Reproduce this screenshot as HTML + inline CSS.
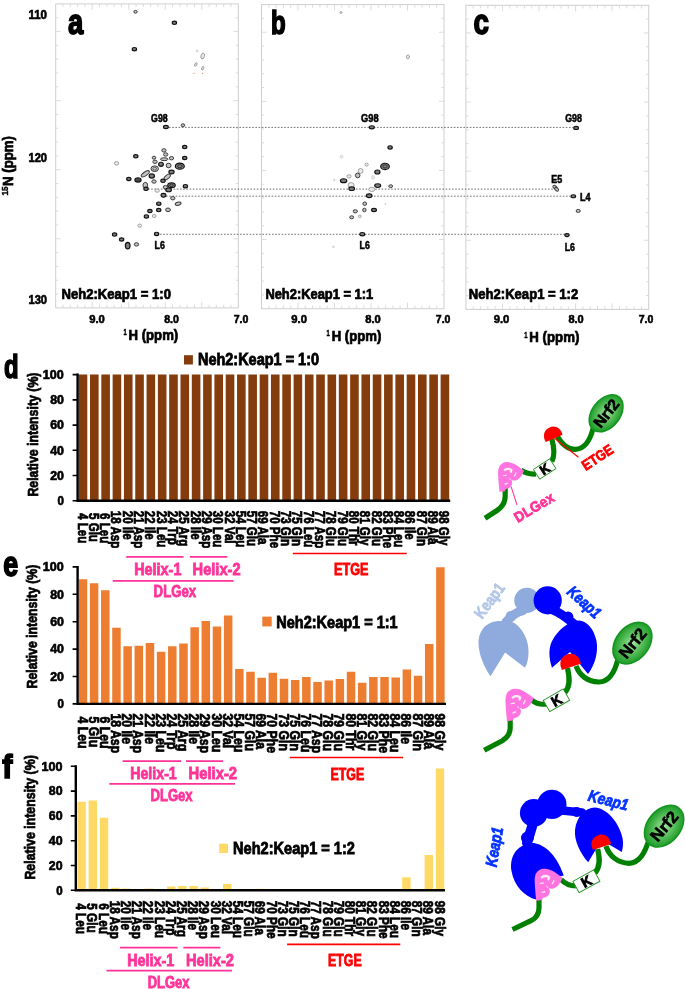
<!DOCTYPE html>
<html><head><meta charset="utf-8"><title>Neh2 Keap1 titration figure</title>
<style>html,body{margin:0;padding:0;background:#fff}svg{display:block}text{white-space:pre}</style></head>
<body>
<svg width="685" height="989" viewBox="0 0 685 989">
<rect width="685" height="989" fill="#fff"/>
<rect x="55.7" y="3.9" width="182.6" height="304.0" fill="none" stroke="#cfcfcf" stroke-width="1"/>
<path d="M231.00,307.9v-3.2M231.00,3.9v3.2M223.69,307.9v-3.2M223.69,3.9v3.2M216.39,307.9v-3.2M216.39,3.9v3.2M209.08,307.9v-3.2M209.08,3.9v3.2M201.78,307.9v-6M201.78,3.9v6M194.48,307.9v-3.2M194.48,3.9v3.2M187.17,307.9v-3.2M187.17,3.9v3.2M179.87,307.9v-3.2M179.87,3.9v3.2M172.56,307.9v-3.2M172.56,3.9v3.2M165.26,307.9v-6M165.26,3.9v6M157.96,307.9v-3.2M157.96,3.9v3.2M150.65,307.9v-3.2M150.65,3.9v3.2M143.35,307.9v-3.2M143.35,3.9v3.2M136.04,307.9v-3.2M136.04,3.9v3.2M128.74,307.9v-6M128.74,3.9v6M121.44,307.9v-3.2M121.44,3.9v3.2M114.13,307.9v-3.2M114.13,3.9v3.2M106.83,307.9v-3.2M106.83,3.9v3.2M99.52,307.9v-3.2M99.52,3.9v3.2M92.22,307.9v-6M92.22,3.9v6M84.92,307.9v-3.2M84.92,3.9v3.2M77.61,307.9v-3.2M77.61,3.9v3.2M70.31,307.9v-3.2M70.31,3.9v3.2M63.00,307.9v-3.2M63.00,3.9v3.2M55.7,294.08h2.6M238.3,294.08h-2.6M55.7,280.26h2.6M238.3,280.26h-2.6M55.7,266.45h2.6M238.3,266.45h-2.6M55.7,252.63h2.6M238.3,252.63h-2.6M55.7,238.81h5M238.3,238.81h-5M55.7,224.99h2.6M238.3,224.99h-2.6M55.7,211.17h2.6M238.3,211.17h-2.6M55.7,197.35h2.6M238.3,197.35h-2.6M55.7,183.54h2.6M238.3,183.54h-2.6M55.7,169.72h5M238.3,169.72h-5M55.7,155.90h2.6M238.3,155.90h-2.6M55.7,142.08h2.6M238.3,142.08h-2.6M55.7,128.26h2.6M238.3,128.26h-2.6M55.7,114.45h2.6M238.3,114.45h-2.6M55.7,100.63h5M238.3,100.63h-5M55.7,86.81h2.6M238.3,86.81h-2.6M55.7,72.99h2.6M238.3,72.99h-2.6M55.7,59.17h2.6M238.3,59.17h-2.6M55.7,45.35h2.6M238.3,45.35h-2.6M55.7,31.54h5M238.3,31.54h-5M55.7,17.72h2.6M238.3,17.72h-2.6" stroke="#d6d6d6" stroke-width="0.85" fill="none"/>
<rect x="261.5" y="4.6" width="182.5" height="304.1" fill="none" stroke="#cfcfcf" stroke-width="1"/>
<path d="M436.70,308.7v-3.2M436.70,4.6v3.2M429.40,308.7v-3.2M429.40,4.6v3.2M422.10,308.7v-3.2M422.10,4.6v3.2M414.80,308.7v-3.2M414.80,4.6v3.2M407.50,308.7v-6M407.50,4.6v6M400.20,308.7v-3.2M400.20,4.6v3.2M392.90,308.7v-3.2M392.90,4.6v3.2M385.60,308.7v-3.2M385.60,4.6v3.2M378.30,308.7v-3.2M378.30,4.6v3.2M371.00,308.7v-6M371.00,4.6v6M363.70,308.7v-3.2M363.70,4.6v3.2M356.40,308.7v-3.2M356.40,4.6v3.2M349.10,308.7v-3.2M349.10,4.6v3.2M341.80,308.7v-3.2M341.80,4.6v3.2M334.50,308.7v-6M334.50,4.6v6M327.20,308.7v-3.2M327.20,4.6v3.2M319.90,308.7v-3.2M319.90,4.6v3.2M312.60,308.7v-3.2M312.60,4.6v3.2M305.30,308.7v-3.2M305.30,4.6v3.2M298.00,308.7v-6M298.00,4.6v6M290.70,308.7v-3.2M290.70,4.6v3.2M283.40,308.7v-3.2M283.40,4.6v3.2M276.10,308.7v-3.2M276.10,4.6v3.2M268.80,308.7v-3.2M268.80,4.6v3.2M261.5,294.88h2.6M444.0,294.88h-2.6M261.5,281.05h2.6M444.0,281.05h-2.6M261.5,267.23h2.6M444.0,267.23h-2.6M261.5,253.41h2.6M444.0,253.41h-2.6M261.5,239.59h5M444.0,239.59h-5M261.5,225.76h2.6M444.0,225.76h-2.6M261.5,211.94h2.6M444.0,211.94h-2.6M261.5,198.12h2.6M444.0,198.12h-2.6M261.5,184.30h2.6M444.0,184.30h-2.6M261.5,170.47h5M444.0,170.47h-5M261.5,156.65h2.6M444.0,156.65h-2.6M261.5,142.83h2.6M444.0,142.83h-2.6M261.5,129.00h2.6M444.0,129.00h-2.6M261.5,115.18h2.6M444.0,115.18h-2.6M261.5,101.36h5M444.0,101.36h-5M261.5,87.54h2.6M444.0,87.54h-2.6M261.5,73.71h2.6M444.0,73.71h-2.6M261.5,59.89h2.6M444.0,59.89h-2.6M261.5,46.07h2.6M444.0,46.07h-2.6M261.5,32.25h5M444.0,32.25h-5M261.5,18.42h2.6M444.0,18.42h-2.6" stroke="#d6d6d6" stroke-width="0.85" fill="none"/>
<rect x="465.9" y="5.3" width="182.8" height="304.1" fill="none" stroke="#cfcfcf" stroke-width="1"/>
<path d="M641.39,309.4v-3.2M641.39,5.3v3.2M634.08,309.4v-3.2M634.08,5.3v3.2M626.76,309.4v-3.2M626.76,5.3v3.2M619.45,309.4v-3.2M619.45,5.3v3.2M612.14,309.4v-6M612.14,5.3v6M604.83,309.4v-3.2M604.83,5.3v3.2M597.52,309.4v-3.2M597.52,5.3v3.2M590.20,309.4v-3.2M590.20,5.3v3.2M582.89,309.4v-3.2M582.89,5.3v3.2M575.58,309.4v-6M575.58,5.3v6M568.27,309.4v-3.2M568.27,5.3v3.2M560.96,309.4v-3.2M560.96,5.3v3.2M553.64,309.4v-3.2M553.64,5.3v3.2M546.33,309.4v-3.2M546.33,5.3v3.2M539.02,309.4v-6M539.02,5.3v6M531.71,309.4v-3.2M531.71,5.3v3.2M524.40,309.4v-3.2M524.40,5.3v3.2M517.08,309.4v-3.2M517.08,5.3v3.2M509.77,309.4v-3.2M509.77,5.3v3.2M502.46,309.4v-6M502.46,5.3v6M495.15,309.4v-3.2M495.15,5.3v3.2M487.84,309.4v-3.2M487.84,5.3v3.2M480.52,309.4v-3.2M480.52,5.3v3.2M473.21,309.4v-3.2M473.21,5.3v3.2M465.9,295.58h2.6M648.7,295.58h-2.6M465.9,281.75h2.6M648.7,281.75h-2.6M465.9,267.93h2.6M648.7,267.93h-2.6M465.9,254.11h2.6M648.7,254.11h-2.6M465.9,240.29h5M648.7,240.29h-5M465.9,226.46h2.6M648.7,226.46h-2.6M465.9,212.64h2.6M648.7,212.64h-2.6M465.9,198.82h2.6M648.7,198.82h-2.6M465.9,185.00h2.6M648.7,185.00h-2.6M465.9,171.17h5M648.7,171.17h-5M465.9,157.35h2.6M648.7,157.35h-2.6M465.9,143.53h2.6M648.7,143.53h-2.6M465.9,129.70h2.6M648.7,129.70h-2.6M465.9,115.88h2.6M648.7,115.88h-2.6M465.9,102.06h5M648.7,102.06h-5M465.9,88.24h2.6M648.7,88.24h-2.6M465.9,74.41h2.6M648.7,74.41h-2.6M465.9,60.59h2.6M648.7,60.59h-2.6M465.9,46.77h2.6M648.7,46.77h-2.6M465.9,32.95h5M648.7,32.95h-5M465.9,19.12h2.6M648.7,19.12h-2.6" stroke="#d6d6d6" stroke-width="0.85" fill="none"/>
<path d="M169,127.4H573" stroke="#4a4a4a" stroke-width="0.8" stroke-dasharray="1.6 1.6" fill="none"/>
<path d="M148,189.1H553" stroke="#4a4a4a" stroke-width="0.8" stroke-dasharray="1.6 1.6" fill="none"/>
<path d="M166,196.2H570" stroke="#4a4a4a" stroke-width="0.8" stroke-dasharray="1.6 1.6" fill="none"/>
<path d="M160,234.3H565" stroke="#4a4a4a" stroke-width="0.8" stroke-dasharray="1.6 1.6" fill="none"/>
<ellipse cx="184.7" cy="147.1" rx="2.16" ry="1.69" fill="#7d7d7d" stroke="#111111" stroke-width="1.15"/>
<ellipse cx="163.9" cy="150.4" rx="2.16" ry="1.69" fill="#c4c4c4" stroke="#3a3a3a" stroke-width="1.0"/>
<ellipse cx="165.7" cy="154.5" rx="2.16" ry="1.69" fill="#c4c4c4" stroke="#3a3a3a" stroke-width="1.0"/>
<ellipse cx="135.8" cy="156.3" rx="2.16" ry="1.69" fill="#7d7d7d" stroke="#111111" stroke-width="1.15"/>
<ellipse cx="154" cy="157.7" rx="1.79" ry="1.5" fill="#c4c4c4" stroke="#3a3a3a" stroke-width="1.0"/>
<ellipse cx="171.5" cy="158.2" rx="2.16" ry="1.69" fill="#c4c4c4" stroke="#3a3a3a" stroke-width="1.0"/>
<ellipse cx="184.7" cy="158" rx="2.16" ry="1.69" fill="#7d7d7d" stroke="#111111" stroke-width="1.15"/>
<ellipse cx="164.2" cy="159.2" rx="3.76" ry="1.41" fill="#c4c4c4" stroke="#3a3a3a" stroke-width="1.0"/>
<ellipse cx="116.5" cy="163.3" rx="2.16" ry="1.69" fill="#ececec" stroke="#8c8c8c" stroke-width="0.8"/>
<ellipse cx="155" cy="161.8" rx="2.16" ry="1.69" fill="#c4c4c4" stroke="#3a3a3a" stroke-width="1.0"/>
<ellipse cx="161" cy="164.3" rx="2.35" ry="2.07" fill="#7d7d7d" stroke="#111111" stroke-width="1.15"/>
<ellipse cx="168.6" cy="165.5" rx="2.44" ry="2.26" fill="#c4c4c4" stroke="#3a3a3a" stroke-width="1.0"/>
<ellipse cx="179.8" cy="166.2" rx="4.51" ry="3.1" fill="#7d7d7d" stroke="#111111" stroke-width="1.15"/>
<ellipse cx="179.8" cy="166.2" rx="2.25" ry="1.55" fill="none" stroke="#111111" stroke-width="0.7"/>
<ellipse cx="154.7" cy="168.7" rx="3.76" ry="2.82" fill="#c4c4c4" stroke="#3a3a3a" stroke-width="1.0"/>
<ellipse cx="154.7" cy="168.7" rx="1.88" ry="1.41" fill="none" stroke="#3a3a3a" stroke-width="0.7"/>
<ellipse cx="171.5" cy="172" rx="2.63" ry="1.88" fill="#7d7d7d" stroke="#111111" stroke-width="1.15"/>
<ellipse cx="145.3" cy="173.8" rx="4.7" ry="1.88" fill="#c4c4c4" stroke="#3a3a3a" stroke-width="1.0" transform="rotate(-35 145.3 173.8)"/>
<ellipse cx="151.8" cy="176" rx="2.63" ry="2.07" fill="#7d7d7d" stroke="#111111" stroke-width="1.15"/>
<ellipse cx="167.2" cy="177" rx="3.76" ry="1.88" fill="#c4c4c4" stroke="#3a3a3a" stroke-width="1.0" transform="rotate(-40 167.2 177)"/>
<ellipse cx="128.8" cy="179" rx="2.16" ry="1.69" fill="#7d7d7d" stroke="#111111" stroke-width="1.15"/>
<ellipse cx="138" cy="180" rx="3.1" ry="2.07" fill="#7d7d7d" stroke="#111111" stroke-width="1.15"/>
<ellipse cx="138" cy="180" rx="1.55" ry="1.03" fill="none" stroke="#111111" stroke-width="0.7"/>
<ellipse cx="163" cy="180.8" rx="2.16" ry="1.69" fill="#7d7d7d" stroke="#111111" stroke-width="1.15"/>
<ellipse cx="154" cy="181.5" rx="2.16" ry="1.69" fill="#c4c4c4" stroke="#3a3a3a" stroke-width="1.0"/>
<ellipse cx="171.5" cy="185.2" rx="3.76" ry="2.44" fill="#7d7d7d" stroke="#111111" stroke-width="1.15"/>
<ellipse cx="171.5" cy="185.2" rx="1.88" ry="1.22" fill="none" stroke="#111111" stroke-width="0.7"/>
<ellipse cx="185.4" cy="186.2" rx="2.16" ry="1.69" fill="#7d7d7d" stroke="#111111" stroke-width="1.15"/>
<ellipse cx="145.3" cy="185.2" rx="2.35" ry="2.82" fill="#c4c4c4" stroke="#3a3a3a" stroke-width="1.0"/>
<ellipse cx="146" cy="188.8" rx="2.16" ry="1.69" fill="#7d7d7d" stroke="#111111" stroke-width="1.15"/>
<ellipse cx="165.4" cy="187.2" rx="2.16" ry="1.69" fill="#c4c4c4" stroke="#3a3a3a" stroke-width="1.0"/>
<ellipse cx="168.6" cy="189.9" rx="2.82" ry="1.88" fill="#7d7d7d" stroke="#111111" stroke-width="1.15"/>
<ellipse cx="157.2" cy="190.6" rx="2.16" ry="1.69" fill="#ececec" stroke="#8c8c8c" stroke-width="0.8"/>
<ellipse cx="163.5" cy="195.3" rx="2.44" ry="1.88" fill="#7d7d7d" stroke="#111111" stroke-width="1.15"/>
<ellipse cx="172.8" cy="198.2" rx="2.16" ry="1.69" fill="#c4c4c4" stroke="#3a3a3a" stroke-width="1.0"/>
<ellipse cx="178.1" cy="203.7" rx="3.01" ry="1.6" fill="#c4c4c4" stroke="#3a3a3a" stroke-width="1.0" transform="rotate(-15 178.1 203.7)"/>
<ellipse cx="158.8" cy="203.7" rx="2.16" ry="1.69" fill="#7d7d7d" stroke="#111111" stroke-width="1.15"/>
<ellipse cx="158.7" cy="210.1" rx="2.16" ry="1.69" fill="#7d7d7d" stroke="#111111" stroke-width="1.15"/>
<ellipse cx="168" cy="209.8" rx="2.44" ry="1.79" fill="#c4c4c4" stroke="#3a3a3a" stroke-width="1.0"/>
<ellipse cx="149.9" cy="211" rx="2.16" ry="1.69" fill="#7d7d7d" stroke="#111111" stroke-width="1.15"/>
<ellipse cx="146.4" cy="216.4" rx="2.16" ry="1.69" fill="#7d7d7d" stroke="#111111" stroke-width="1.15"/>
<ellipse cx="154.2" cy="216" rx="1.88" ry="1.6" fill="#ececec" stroke="#8c8c8c" stroke-width="0.8"/>
<ellipse cx="139.7" cy="225.6" rx="1.79" ry="1.6" fill="#ececec" stroke="#8c8c8c" stroke-width="0.8"/>
<ellipse cx="156.6" cy="233.9" rx="2.16" ry="1.69" fill="#7d7d7d" stroke="#111111" stroke-width="1.15"/>
<ellipse cx="114.6" cy="234.6" rx="2.16" ry="1.69" fill="#7d7d7d" stroke="#111111" stroke-width="1.15"/>
<ellipse cx="121.6" cy="239.5" rx="2.16" ry="1.69" fill="#7d7d7d" stroke="#111111" stroke-width="1.15"/>
<ellipse cx="127.7" cy="245.6" rx="2.35" ry="3.29" fill="#7d7d7d" stroke="#111111" stroke-width="1.15"/>
<ellipse cx="136.5" cy="244.4" rx="2.16" ry="1.69" fill="#c4c4c4" stroke="#3a3a3a" stroke-width="1.0"/>
<ellipse cx="135.5" cy="11.8" rx="1.69" ry="1.41" fill="#c4c4c4" stroke="#3a3a3a" stroke-width="1.0"/>
<ellipse cx="174.4" cy="22.8" rx="2.16" ry="1.69" fill="#7d7d7d" stroke="#111111" stroke-width="1.15"/>
<ellipse cx="134.4" cy="49.2" rx="2.16" ry="1.69" fill="#7d7d7d" stroke="#111111" stroke-width="1.15"/>
<ellipse cx="202.7" cy="56" rx="1.69" ry="3.01" fill="#ececec" stroke="#8c8c8c" stroke-width="0.8" transform="rotate(15 202.7 56)"/>
<ellipse cx="197.2" cy="50.9" rx="0.94" ry="0.94" fill="#f2f2f2" stroke="#bbbbbb" stroke-width="0.6"/>
<ellipse cx="195.8" cy="64.5" rx="1.03" ry="1.88" fill="#ececec" stroke="#8c8c8c" stroke-width="0.8" transform="rotate(30 195.8 64.5)"/>
<ellipse cx="202.7" cy="68.3" rx="0.94" ry="1.88" fill="#ececec" stroke="#8c8c8c" stroke-width="0.8" transform="rotate(20 202.7 68.3)"/>
<ellipse cx="165.9" cy="127" rx="2.44" ry="1.69" fill="#7d7d7d" stroke="#111111" stroke-width="1.15"/>
<ellipse cx="182.9" cy="125.3" rx="1.79" ry="1.5" fill="#c4c4c4" stroke="#3a3a3a" stroke-width="1.0"/>
<circle cx="194" cy="73.4" r="0.6" fill="#e88"/><circle cx="202.5" cy="73.4" r="0.6" fill="#e88"/>
<ellipse cx="390.1" cy="147.4" rx="2.16" ry="1.69" fill="#7d7d7d" stroke="#111111" stroke-width="1.15"/>
<ellipse cx="341.5" cy="156.7" rx="1.41" ry="1.41" fill="#f2f2f2" stroke="#bbbbbb" stroke-width="0.6"/>
<ellipse cx="366.6" cy="164.6" rx="1.6" ry="1.5" fill="#ececec" stroke="#8c8c8c" stroke-width="0.8"/>
<ellipse cx="385" cy="166.4" rx="4.32" ry="3.2" fill="#7d7d7d" stroke="#111111" stroke-width="1.15"/>
<ellipse cx="385" cy="166.4" rx="2.16" ry="1.60" fill="none" stroke="#111111" stroke-width="0.7"/>
<ellipse cx="377.4" cy="172" rx="2.63" ry="1.97" fill="#7d7d7d" stroke="#111111" stroke-width="1.15"/>
<ellipse cx="360.6" cy="171" rx="2.44" ry="2.44" fill="#ececec" stroke="#8c8c8c" stroke-width="0.8"/>
<ellipse cx="357.7" cy="175.4" rx="2.26" ry="2.35" fill="#c4c4c4" stroke="#3a3a3a" stroke-width="1.0"/>
<ellipse cx="349" cy="176.4" rx="2.07" ry="1.69" fill="#ececec" stroke="#8c8c8c" stroke-width="0.8"/>
<ellipse cx="373" cy="177.4" rx="1.41" ry="1.69" fill="#f2f2f2" stroke="#bbbbbb" stroke-width="0.6"/>
<ellipse cx="343.6" cy="180.7" rx="3.2" ry="1.97" fill="#7d7d7d" stroke="#111111" stroke-width="1.15"/>
<ellipse cx="334.3" cy="180" rx="0.85" ry="0.75" fill="#f2f2f2" stroke="#bbbbbb" stroke-width="0.6"/>
<ellipse cx="351.1" cy="185.2" rx="3.01" ry="2.63" fill="#ececec" stroke="#8c8c8c" stroke-width="0.8"/>
<ellipse cx="351.7" cy="188.7" rx="2.82" ry="1.79" fill="#7d7d7d" stroke="#111111" stroke-width="1.15"/>
<ellipse cx="377.7" cy="185.6" rx="3.01" ry="1.88" fill="#7d7d7d" stroke="#111111" stroke-width="1.15"/>
<ellipse cx="390.7" cy="186.2" rx="1.88" ry="1.41" fill="#c4c4c4" stroke="#3a3a3a" stroke-width="1.0"/>
<ellipse cx="371.8" cy="189.4" rx="3.1" ry="2.07" fill="#ececec" stroke="#8c8c8c" stroke-width="0.8"/>
<ellipse cx="369.2" cy="195.7" rx="2.82" ry="1.88" fill="#7d7d7d" stroke="#111111" stroke-width="1.15"/>
<ellipse cx="364.7" cy="203.7" rx="1.88" ry="1.69" fill="#c4c4c4" stroke="#3a3a3a" stroke-width="1.0"/>
<ellipse cx="364.4" cy="210" rx="1.69" ry="1.79" fill="#c4c4c4" stroke="#3a3a3a" stroke-width="1.0"/>
<ellipse cx="374" cy="210" rx="2.44" ry="1.69" fill="#7d7d7d" stroke="#111111" stroke-width="1.15"/>
<ellipse cx="355.3" cy="211.3" rx="2.07" ry="1.6" fill="#c4c4c4" stroke="#3a3a3a" stroke-width="1.0"/>
<ellipse cx="351.7" cy="217.3" rx="1.97" ry="1.5" fill="#c4c4c4" stroke="#3a3a3a" stroke-width="1.0"/>
<ellipse cx="359.7" cy="216.4" rx="1.32" ry="1.22" fill="#ececec" stroke="#8c8c8c" stroke-width="0.8"/>
<ellipse cx="362.3" cy="234.2" rx="2.44" ry="1.69" fill="#7d7d7d" stroke="#111111" stroke-width="1.15"/>
<ellipse cx="385.4" cy="204" rx="0.56" ry="0.56" fill="#f2f2f2" stroke="#bbbbbb" stroke-width="0.6"/>
<ellipse cx="333.4" cy="246.8" rx="0.94" ry="0.85" fill="#f2f2f2" stroke="#bbbbbb" stroke-width="0.6"/>
<ellipse cx="340.9" cy="12.5" rx="1.13" ry="0.85" fill="#ececec" stroke="#8c8c8c" stroke-width="0.8"/>
<ellipse cx="407.9" cy="56.9" rx="1.5" ry="1.97" fill="#ececec" stroke="#8c8c8c" stroke-width="0.8" transform="rotate(15 407.9 56.9)"/>
<ellipse cx="371.8" cy="127.3" rx="2.54" ry="1.6" fill="#7d7d7d" stroke="#111111" stroke-width="1.15"/>
<ellipse cx="576.1" cy="127.9" rx="2.35" ry="1.6" fill="#7d7d7d" stroke="#111111" stroke-width="1.15"/>
<ellipse cx="555.0" cy="187.3" rx="2.44" ry="1.5" fill="#c4c4c4" stroke="#3a3a3a" stroke-width="1.0" transform="rotate(40 555.0 187.3)"/>
<ellipse cx="556.6" cy="189.3" rx="2.26" ry="1.41" fill="#c4c4c4" stroke="#3a3a3a" stroke-width="1.0" transform="rotate(40 556.6 189.3)"/>
<ellipse cx="573.3" cy="196.2" rx="2.35" ry="1.5" fill="#7d7d7d" stroke="#111111" stroke-width="1.15"/>
<ellipse cx="578.2" cy="210.9" rx="2.07" ry="1.5" fill="#c4c4c4" stroke="#3a3a3a" stroke-width="1.0"/>
<ellipse cx="567" cy="235.1" rx="2.16" ry="1.5" fill="#7d7d7d" stroke="#111111" stroke-width="1.15"/>
<g style="font-family:'Liberation Sans',sans-serif;font-weight:bold">
<text transform="translate(68.01,34.20) scale(0.7718,1)" font-size="35.50" fill="#000" stroke="#000" stroke-width="1.78" style="" >a</text>
<text transform="translate(271.07,34.00) scale(0.7174,1)" font-size="33.50" fill="#000" stroke="#000" stroke-width="1.68" style="" >b</text>
<text transform="translate(473.51,34.20) scale(0.7806,1)" font-size="35.50" fill="#000" stroke="#000" stroke-width="1.78" style="" >c</text>
<text transform="translate(28.44,18.50) scale(0.9691,1)" font-size="11.90" fill="#000" stroke="#000" stroke-width="0.60" style="" >110</text>
<text transform="translate(28.44,162.00) scale(0.9372,1)" font-size="11.90" fill="#000" stroke="#000" stroke-width="0.60" style="" >120</text>
<text transform="translate(28.44,304.20) scale(0.9372,1)" font-size="11.90" fill="#000" stroke="#000" stroke-width="0.60" style="" >130</text>
<text transform="translate(89.13,322.60) scale(0.9697,1)" font-size="11.60" fill="#000" stroke="#000" stroke-width="0.58" style="" >9.0</text>
<text transform="translate(164.23,322.60) scale(0.9139,1)" font-size="11.60" fill="#000" stroke="#000" stroke-width="0.58" style="" >8.0</text>
<text transform="translate(233.73,322.60) scale(0.9139,1)" font-size="11.60" fill="#000" stroke="#000" stroke-width="0.58" style="" >7.0</text>
<text transform="translate(291.33,322.60) scale(0.9697,1)" font-size="11.60" fill="#000" stroke="#000" stroke-width="0.58" style="" >9.0</text>
<text transform="translate(365.23,322.60) scale(0.9635,1)" font-size="11.60" fill="#000" stroke="#000" stroke-width="0.58" style="" >8.0</text>
<text transform="translate(435.83,322.60) scale(0.9077,1)" font-size="11.60" fill="#000" stroke="#000" stroke-width="0.58" style="" >7.0</text>
<text transform="translate(493.73,322.60) scale(0.9697,1)" font-size="11.60" fill="#000" stroke="#000" stroke-width="0.58" style="" >9.0</text>
<text transform="translate(568.43,322.60) scale(0.9511,1)" font-size="11.60" fill="#000" stroke="#000" stroke-width="0.58" style="" >8.0</text>
<text transform="translate(638.63,322.60) scale(0.9077,1)" font-size="11.60" fill="#000" stroke="#000" stroke-width="0.58" style="" >7.0</text>
<text transform="translate(151.12,121.80) scale(0.7965,1)" font-size="11.00" fill="#000" stroke="#000" stroke-width="0.55" style="" >G98</text>
<text transform="translate(154.52,248.80) scale(0.8006,1)" font-size="11.00" fill="#000" stroke="#000" stroke-width="0.55" style="" >L6</text>
<text transform="translate(361.02,121.80) scale(0.8446,1)" font-size="11.00" fill="#000" stroke="#000" stroke-width="0.55" style="" >G98</text>
<text transform="translate(359.62,249.00) scale(0.7928,1)" font-size="11.00" fill="#000" stroke="#000" stroke-width="0.55" style="" >L6</text>
<text transform="translate(565.22,122.40) scale(0.8062,1)" font-size="11.00" fill="#000" stroke="#000" stroke-width="0.55" style="" >G98</text>
<text transform="translate(551.22,182.90) scale(0.8134,1)" font-size="11.00" fill="#000" stroke="#000" stroke-width="0.55" style="" >E5</text>
<text transform="translate(580.12,201.20) scale(0.8162,1)" font-size="11.00" fill="#000" stroke="#000" stroke-width="0.55" style="" >L4</text>
<text transform="translate(564.72,250.70) scale(0.8006,1)" font-size="11.00" fill="#000" stroke="#000" stroke-width="0.55" style="" >L6</text>
<text transform="translate(61.49,298.50) scale(0.8967,1)" font-size="14.60" fill="#000" stroke="#000" stroke-width="0.73" style="" >Neh2:Keap1 = 1:0</text>
<text transform="translate(265.39,298.70) scale(0.8836,1)" font-size="14.60" fill="#000" stroke="#000" stroke-width="0.73" style="" >Neh2:Keap1 = 1:1</text>
<text transform="translate(468.79,299.40) scale(0.8967,1)" font-size="14.60" fill="#000" stroke="#000" stroke-width="0.73" style="" >Neh2:Keap1 = 1:2</text>
<text transform="translate(123.47,335.40) scale(0.7094,1)" font-size="8.30" fill="#000" stroke="#000" stroke-width="0.42" style="" >1</text>
<text transform="translate(128.59,340.00) scale(0.9002,1)" font-size="14.60" fill="#000" stroke="#000" stroke-width="0.73" style="" >H (ppm)</text>
<text transform="translate(326.57,336.40) scale(0.7094,1)" font-size="8.30" fill="#000" stroke="#000" stroke-width="0.42" style="" >1</text>
<text transform="translate(331.69,341.00) scale(0.9020,1)" font-size="14.60" fill="#000" stroke="#000" stroke-width="0.73" style="" >H (ppm)</text>
<text transform="translate(524.17,337.80) scale(0.7094,1)" font-size="8.30" fill="#000" stroke="#000" stroke-width="0.42" style="" >1</text>
<text transform="translate(529.29,342.40) scale(0.9075,1)" font-size="14.60" fill="#000" stroke="#000" stroke-width="0.73" style="" >H (ppm)</text>
<text transform="translate(7.60,195.60) rotate(-90.00) scale(0.9428,1.0000) translate(-0.00,0)" font-size="8.60" fill="#000" stroke="#000" stroke-width="0.43" style="">15</text>
<text transform="translate(12.90,186.00) rotate(-90.00) scale(0.8949,1.0000) translate(-0.00,0)" font-size="14.80" fill="#000" stroke="#000" stroke-width="0.74" style="">N (ppm)</text>
<path d="M78.70,500.80v-126.20h8.6v126.20zM90.01,500.80v-126.20h8.6v126.20zM101.32,500.80v-126.20h8.6v126.20zM112.63,500.80v-126.20h8.6v126.20zM123.94,500.80v-126.20h8.6v126.20zM135.25,500.80v-126.20h8.6v126.20zM146.56,500.80v-126.20h8.6v126.20zM157.87,500.80v-126.20h8.6v126.20zM169.18,500.80v-126.20h8.6v126.20zM180.49,500.80v-126.20h8.6v126.20zM191.80,500.80v-126.20h8.6v126.20zM203.11,500.80v-126.20h8.6v126.20zM214.42,500.80v-126.20h8.6v126.20zM225.73,500.80v-126.20h8.6v126.20zM237.04,500.80v-126.20h8.6v126.20zM248.35,500.80v-126.20h8.6v126.20zM259.66,500.80v-126.20h8.6v126.20zM270.97,500.80v-126.20h8.6v126.20zM282.28,500.80v-126.20h8.6v126.20zM293.59,500.80v-126.20h8.6v126.20zM304.90,500.80v-126.20h8.6v126.20zM316.21,500.80v-126.20h8.6v126.20zM327.52,500.80v-126.20h8.6v126.20zM338.83,500.80v-126.20h8.6v126.20zM350.14,500.80v-126.20h8.6v126.20zM361.45,500.80v-126.20h8.6v126.20zM372.76,500.80v-126.20h8.6v126.20zM384.07,500.80v-126.20h8.6v126.20zM395.38,500.80v-126.20h8.6v126.20zM406.69,500.80v-126.20h8.6v126.20zM418.00,500.80v-126.20h8.6v126.20zM429.31,500.80v-126.20h8.6v126.20zM440.62,500.80v-126.20h8.6v126.20z" fill="#843c0c"/>
<path d="M77.60,373.60V500.80H450.20" stroke="#000" stroke-width="2.4" fill="none" stroke-linejoin="miter"/>
<path d="M72.60,500.80h5M72.60,475.56h5M72.60,450.32h5M72.60,425.08h5M72.60,399.84h5M72.60,374.60h5" stroke="#000" stroke-width="1.6"/>
<text transform="translate(57.44,505.10) scale(0.9640,1)" font-size="12.00" fill="#000" stroke="#000" stroke-width="0.60" style="" >0</text>
<text transform="translate(50.14,479.86) scale(1.0300,1)" font-size="12.00" fill="#000" stroke="#000" stroke-width="0.60" style="" >20</text>
<text transform="translate(50.14,454.62) scale(1.0300,1)" font-size="12.00" fill="#000" stroke="#000" stroke-width="0.60" style="" >40</text>
<text transform="translate(50.14,429.38) scale(1.0300,1)" font-size="12.00" fill="#000" stroke="#000" stroke-width="0.60" style="" >60</text>
<text transform="translate(50.14,404.14) scale(1.0300,1)" font-size="12.00" fill="#000" stroke="#000" stroke-width="0.60" style="" >80</text>
<text transform="translate(42.84,378.90) scale(1.0489,1)" font-size="12.00" fill="#000" stroke="#000" stroke-width="0.60" style="" >100</text>
<text transform="translate(38.00,496.60) rotate(-90.00) scale(0.8514,1.0000) translate(-0.00,0)" font-size="14.50" fill="#000" stroke="#000" stroke-width="0.73" style="">Relative intensity (%)</text>
<text transform="translate(4.06,377.70) scale(0.7243,1)" font-size="33.00" fill="#000" stroke="#000" stroke-width="1.65" style="" >d</text>
<text transform="translate(77.50,513.00) rotate(90.00) scale(0.8150,1.0000) translate(-0.00,0)" font-size="14.20" fill="#000" stroke="#000" stroke-width="0.71" style="">4 Leu</text>
<text transform="translate(88.81,513.00) rotate(90.00) scale(0.8150,1.0000) translate(-0.00,0)" font-size="14.20" fill="#000" stroke="#000" stroke-width="0.71" style="">5 Glu</text>
<text transform="translate(100.12,513.00) rotate(90.00) scale(0.8150,1.0000) translate(-0.00,0)" font-size="14.20" fill="#000" stroke="#000" stroke-width="0.71" style="">6 Leu</text>
<text transform="translate(111.43,510.80) rotate(90.00) scale(0.8150,1.0000) translate(-0.00,0)" font-size="14.20" fill="#000" stroke="#000" stroke-width="0.71" style="">18 Asp</text>
<text transform="translate(122.74,510.80) rotate(90.00) scale(0.8150,1.0000) translate(-0.00,0)" font-size="14.20" fill="#000" stroke="#000" stroke-width="0.71" style="">20 Ile</text>
<text transform="translate(134.05,510.80) rotate(90.00) scale(0.8150,1.0000) translate(-0.00,0)" font-size="14.20" fill="#000" stroke="#000" stroke-width="0.71" style="">21 Asp</text>
<text transform="translate(145.36,510.80) rotate(90.00) scale(0.8150,1.0000) translate(-0.00,0)" font-size="14.20" fill="#000" stroke="#000" stroke-width="0.71" style="">22 Ile</text>
<text transform="translate(156.67,510.80) rotate(90.00) scale(0.8150,1.0000) translate(-0.00,0)" font-size="14.20" fill="#000" stroke="#000" stroke-width="0.71" style="">23 Leu</text>
<text transform="translate(167.98,510.80) rotate(90.00) scale(0.8150,1.0000) translate(-0.00,0)" font-size="14.20" fill="#000" stroke="#000" stroke-width="0.71" style="">24 Trp</text>
<text transform="translate(179.29,510.80) rotate(90.00) scale(0.8150,1.0000) translate(-0.00,0)" font-size="14.20" fill="#000" stroke="#000" stroke-width="0.71" style="">25 Arg</text>
<text transform="translate(190.60,510.80) rotate(90.00) scale(0.8150,1.0000) translate(-0.00,0)" font-size="14.20" fill="#000" stroke="#000" stroke-width="0.71" style="">28 Ile</text>
<text transform="translate(201.91,510.80) rotate(90.00) scale(0.8150,1.0000) translate(-0.00,0)" font-size="14.20" fill="#000" stroke="#000" stroke-width="0.71" style="">29 Asp</text>
<text transform="translate(213.22,510.80) rotate(90.00) scale(0.8150,1.0000) translate(-0.00,0)" font-size="14.20" fill="#000" stroke="#000" stroke-width="0.71" style="">30 Leu</text>
<text transform="translate(224.53,510.80) rotate(90.00) scale(0.8150,1.0000) translate(-0.00,0)" font-size="14.20" fill="#000" stroke="#000" stroke-width="0.71" style="">32 Val</text>
<text transform="translate(235.84,510.80) rotate(90.00) scale(0.8150,1.0000) translate(-0.00,0)" font-size="14.20" fill="#000" stroke="#000" stroke-width="0.71" style="">54 Leu</text>
<text transform="translate(247.15,510.80) rotate(90.00) scale(0.8150,1.0000) translate(-0.00,0)" font-size="14.20" fill="#000" stroke="#000" stroke-width="0.71" style="">57 Glu</text>
<text transform="translate(258.46,510.80) rotate(90.00) scale(0.8150,1.0000) translate(-0.00,0)" font-size="14.20" fill="#000" stroke="#000" stroke-width="0.71" style="">69 Ala</text>
<text transform="translate(269.77,510.80) rotate(90.00) scale(0.8150,1.0000) translate(-0.00,0)" font-size="14.20" fill="#000" stroke="#000" stroke-width="0.71" style="">70 Phe</text>
<text transform="translate(281.08,510.80) rotate(90.00) scale(0.8150,1.0000) translate(-0.00,0)" font-size="14.20" fill="#000" stroke="#000" stroke-width="0.71" style="">73 Gln</text>
<text transform="translate(292.39,510.80) rotate(90.00) scale(0.8150,1.0000) translate(-0.00,0)" font-size="14.20" fill="#000" stroke="#000" stroke-width="0.71" style="">75 Gln</text>
<text transform="translate(303.70,510.80) rotate(90.00) scale(0.8150,1.0000) translate(-0.00,0)" font-size="14.20" fill="#000" stroke="#000" stroke-width="0.71" style="">76 Leu</text>
<text transform="translate(315.01,510.80) rotate(90.00) scale(0.8150,1.0000) translate(-0.00,0)" font-size="14.20" fill="#000" stroke="#000" stroke-width="0.71" style="">77 Asp</text>
<text transform="translate(326.32,510.80) rotate(90.00) scale(0.8150,1.0000) translate(-0.00,0)" font-size="14.20" fill="#000" stroke="#000" stroke-width="0.71" style="">78 Glu</text>
<text transform="translate(337.63,510.80) rotate(90.00) scale(0.8150,1.0000) translate(-0.00,0)" font-size="14.20" fill="#000" stroke="#000" stroke-width="0.71" style="">79 Glu</text>
<text transform="translate(348.94,510.80) rotate(90.00) scale(0.8150,1.0000) translate(-0.00,0)" font-size="14.20" fill="#000" stroke="#000" stroke-width="0.71" style="">80 Thr</text>
<text transform="translate(360.25,510.80) rotate(90.00) scale(0.8150,1.0000) translate(-0.00,0)" font-size="14.20" fill="#000" stroke="#000" stroke-width="0.71" style="">81 Gly</text>
<text transform="translate(371.56,510.80) rotate(90.00) scale(0.8150,1.0000) translate(-0.00,0)" font-size="14.20" fill="#000" stroke="#000" stroke-width="0.71" style="">82 Glu</text>
<text transform="translate(382.87,510.80) rotate(90.00) scale(0.8150,1.0000) translate(-0.00,0)" font-size="14.20" fill="#000" stroke="#000" stroke-width="0.71" style="">83 Phe</text>
<text transform="translate(394.18,510.80) rotate(90.00) scale(0.8150,1.0000) translate(-0.00,0)" font-size="14.20" fill="#000" stroke="#000" stroke-width="0.71" style="">84 Leu</text>
<text transform="translate(405.49,510.80) rotate(90.00) scale(0.8150,1.0000) translate(-0.00,0)" font-size="14.20" fill="#000" stroke="#000" stroke-width="0.71" style="">86 Ile</text>
<text transform="translate(416.80,510.80) rotate(90.00) scale(0.8150,1.0000) translate(-0.00,0)" font-size="14.20" fill="#000" stroke="#000" stroke-width="0.71" style="">87 Gln</text>
<text transform="translate(428.11,510.80) rotate(90.00) scale(0.8150,1.0000) translate(-0.00,0)" font-size="14.20" fill="#000" stroke="#000" stroke-width="0.71" style="">89 Ala</text>
<text transform="translate(439.42,510.80) rotate(90.00) scale(0.8150,1.0000) translate(-0.00,0)" font-size="14.20" fill="#000" stroke="#000" stroke-width="0.71" style="">98 Gly</text>
<path d="M78.70,703.90v-124.67h8.5v124.67zM89.87,703.90v-120.56h8.5v120.56zM101.04,703.90v-113.71h8.5v113.71zM112.21,703.90v-76.04h8.5v76.04zM123.38,703.90v-57.54h8.5v57.54zM134.55,703.90v-58.23h8.5v58.23zM145.72,703.90v-60.97h8.5v60.97zM156.89,703.90v-52.06h8.5v52.06zM168.06,703.90v-57.54h8.5v57.54zM179.23,703.90v-60.28h8.5v60.28zM190.40,703.90v-76.72h8.5v76.72zM201.57,703.90v-82.88h8.5v82.88zM212.74,703.90v-77.40h8.5v77.40zM223.91,703.90v-88.37h8.5v88.37zM235.08,703.90v-34.94h8.5v34.94zM246.25,703.90v-32.20h8.5v32.20zM257.42,703.90v-26.03h8.5v26.03zM268.59,703.90v-31.24h8.5v31.24zM279.76,703.90v-25.07h8.5v25.07zM290.93,703.90v-23.97h8.5v23.97zM302.10,703.90v-26.85h8.5v26.85zM313.27,703.90v-21.92h8.5v21.92zM324.44,703.90v-23.29h8.5v23.29zM335.61,703.90v-24.80h8.5v24.80zM346.78,703.90v-32.20h8.5v32.20zM357.95,703.90v-21.10h8.5v21.10zM369.12,703.90v-26.85h8.5v26.85zM380.29,703.90v-26.85h8.5v26.85zM391.46,703.90v-26.30h8.5v26.30zM402.63,703.90v-34.52h8.5v34.52zM413.80,703.90v-28.08h8.5v28.08zM424.97,703.90v-59.87h8.5v59.87zM436.14,703.90v-136.73h8.5v136.73z" fill="#ed7d31"/>
<path d="M77.60,565.90V703.90H446.00" stroke="#000" stroke-width="2.4" fill="none" stroke-linejoin="miter"/>
<path d="M72.60,703.90h5M72.60,676.50h5M72.60,649.10h5M72.60,621.70h5M72.60,594.30h5M72.60,566.90h5" stroke="#000" stroke-width="1.6"/>
<text transform="translate(57.44,708.20) scale(0.9640,1)" font-size="12.00" fill="#000" stroke="#000" stroke-width="0.60" style="" >0</text>
<text transform="translate(50.14,680.80) scale(1.0300,1)" font-size="12.00" fill="#000" stroke="#000" stroke-width="0.60" style="" >20</text>
<text transform="translate(50.14,653.40) scale(1.0300,1)" font-size="12.00" fill="#000" stroke="#000" stroke-width="0.60" style="" >40</text>
<text transform="translate(50.14,626.00) scale(1.0300,1)" font-size="12.00" fill="#000" stroke="#000" stroke-width="0.60" style="" >60</text>
<text transform="translate(50.14,598.60) scale(1.0300,1)" font-size="12.00" fill="#000" stroke="#000" stroke-width="0.60" style="" >80</text>
<text transform="translate(42.84,571.20) scale(1.0489,1)" font-size="12.00" fill="#000" stroke="#000" stroke-width="0.60" style="" >100</text>
<text transform="translate(36.60,688.40) rotate(-90.00) scale(0.8487,1.0000) translate(-0.00,0)" font-size="14.50" fill="#000" stroke="#000" stroke-width="0.73" style="">Relative intensity (%)</text>
<text transform="translate(3.21,576.30) scale(0.7552,1)" font-size="35.50" fill="#000" stroke="#000" stroke-width="1.78" style="" >e</text>
<text transform="translate(77.50,716.50) rotate(90.00) scale(0.8650,1.0000) translate(-0.00,0)" font-size="14.20" fill="#000" stroke="#000" stroke-width="0.71" style="">4 Leu</text>
<text transform="translate(88.67,716.50) rotate(90.00) scale(0.8650,1.0000) translate(-0.00,0)" font-size="14.20" fill="#000" stroke="#000" stroke-width="0.71" style="">5 Glu</text>
<text transform="translate(99.84,716.50) rotate(90.00) scale(0.8650,1.0000) translate(-0.00,0)" font-size="14.20" fill="#000" stroke="#000" stroke-width="0.71" style="">6 Leu</text>
<text transform="translate(111.01,713.40) rotate(90.00) scale(0.8650,1.0000) translate(-0.00,0)" font-size="14.20" fill="#000" stroke="#000" stroke-width="0.71" style="">18 Asp</text>
<text transform="translate(122.18,713.40) rotate(90.00) scale(0.8650,1.0000) translate(-0.00,0)" font-size="14.20" fill="#000" stroke="#000" stroke-width="0.71" style="">20 Ile</text>
<text transform="translate(133.35,713.40) rotate(90.00) scale(0.8650,1.0000) translate(-0.00,0)" font-size="14.20" fill="#000" stroke="#000" stroke-width="0.71" style="">21 Asp</text>
<text transform="translate(144.52,713.40) rotate(90.00) scale(0.8650,1.0000) translate(-0.00,0)" font-size="14.20" fill="#000" stroke="#000" stroke-width="0.71" style="">22 Ile</text>
<text transform="translate(155.69,713.40) rotate(90.00) scale(0.8650,1.0000) translate(-0.00,0)" font-size="14.20" fill="#000" stroke="#000" stroke-width="0.71" style="">23 Leu</text>
<text transform="translate(166.86,713.40) rotate(90.00) scale(0.8650,1.0000) translate(-0.00,0)" font-size="14.20" fill="#000" stroke="#000" stroke-width="0.71" style="">24 Trp</text>
<text transform="translate(178.03,713.40) rotate(90.00) scale(0.8650,1.0000) translate(-0.00,0)" font-size="14.20" fill="#000" stroke="#000" stroke-width="0.71" style="">25 Arg</text>
<text transform="translate(189.20,713.40) rotate(90.00) scale(0.8650,1.0000) translate(-0.00,0)" font-size="14.20" fill="#000" stroke="#000" stroke-width="0.71" style="">28 Ile</text>
<text transform="translate(200.37,713.40) rotate(90.00) scale(0.8650,1.0000) translate(-0.00,0)" font-size="14.20" fill="#000" stroke="#000" stroke-width="0.71" style="">29 Asp</text>
<text transform="translate(211.54,713.40) rotate(90.00) scale(0.8650,1.0000) translate(-0.00,0)" font-size="14.20" fill="#000" stroke="#000" stroke-width="0.71" style="">30 Leu</text>
<text transform="translate(222.71,713.40) rotate(90.00) scale(0.8650,1.0000) translate(-0.00,0)" font-size="14.20" fill="#000" stroke="#000" stroke-width="0.71" style="">32 Val</text>
<text transform="translate(233.88,713.40) rotate(90.00) scale(0.8650,1.0000) translate(-0.00,0)" font-size="14.20" fill="#000" stroke="#000" stroke-width="0.71" style="">54 Leu</text>
<text transform="translate(245.05,713.40) rotate(90.00) scale(0.8650,1.0000) translate(-0.00,0)" font-size="14.20" fill="#000" stroke="#000" stroke-width="0.71" style="">57 Glu</text>
<text transform="translate(256.22,713.40) rotate(90.00) scale(0.8650,1.0000) translate(-0.00,0)" font-size="14.20" fill="#000" stroke="#000" stroke-width="0.71" style="">69 Ala</text>
<text transform="translate(267.39,713.40) rotate(90.00) scale(0.8650,1.0000) translate(-0.00,0)" font-size="14.20" fill="#000" stroke="#000" stroke-width="0.71" style="">70 Phe</text>
<text transform="translate(278.56,713.40) rotate(90.00) scale(0.8650,1.0000) translate(-0.00,0)" font-size="14.20" fill="#000" stroke="#000" stroke-width="0.71" style="">73 Gln</text>
<text transform="translate(289.73,713.40) rotate(90.00) scale(0.8650,1.0000) translate(-0.00,0)" font-size="14.20" fill="#000" stroke="#000" stroke-width="0.71" style="">75 Gln</text>
<text transform="translate(300.90,713.40) rotate(90.00) scale(0.8650,1.0000) translate(-0.00,0)" font-size="14.20" fill="#000" stroke="#000" stroke-width="0.71" style="">76 Leu</text>
<text transform="translate(312.07,713.40) rotate(90.00) scale(0.8650,1.0000) translate(-0.00,0)" font-size="14.20" fill="#000" stroke="#000" stroke-width="0.71" style="">77 Asp</text>
<text transform="translate(323.24,713.40) rotate(90.00) scale(0.8650,1.0000) translate(-0.00,0)" font-size="14.20" fill="#000" stroke="#000" stroke-width="0.71" style="">78 Glu</text>
<text transform="translate(334.41,713.40) rotate(90.00) scale(0.8650,1.0000) translate(-0.00,0)" font-size="14.20" fill="#000" stroke="#000" stroke-width="0.71" style="">79 Glu</text>
<text transform="translate(345.58,713.40) rotate(90.00) scale(0.8650,1.0000) translate(-0.00,0)" font-size="14.20" fill="#000" stroke="#000" stroke-width="0.71" style="">80 Thr</text>
<text transform="translate(356.75,713.40) rotate(90.00) scale(0.8650,1.0000) translate(-0.00,0)" font-size="14.20" fill="#000" stroke="#000" stroke-width="0.71" style="">81 Gly</text>
<text transform="translate(367.92,713.40) rotate(90.00) scale(0.8650,1.0000) translate(-0.00,0)" font-size="14.20" fill="#000" stroke="#000" stroke-width="0.71" style="">82 Glu</text>
<text transform="translate(379.09,713.40) rotate(90.00) scale(0.8650,1.0000) translate(-0.00,0)" font-size="14.20" fill="#000" stroke="#000" stroke-width="0.71" style="">83 Phe</text>
<text transform="translate(390.26,713.40) rotate(90.00) scale(0.8650,1.0000) translate(-0.00,0)" font-size="14.20" fill="#000" stroke="#000" stroke-width="0.71" style="">84 Leu</text>
<text transform="translate(401.43,713.40) rotate(90.00) scale(0.8650,1.0000) translate(-0.00,0)" font-size="14.20" fill="#000" stroke="#000" stroke-width="0.71" style="">86 Ile</text>
<text transform="translate(412.60,713.40) rotate(90.00) scale(0.8650,1.0000) translate(-0.00,0)" font-size="14.20" fill="#000" stroke="#000" stroke-width="0.71" style="">87 Gln</text>
<text transform="translate(423.77,713.40) rotate(90.00) scale(0.8650,1.0000) translate(-0.00,0)" font-size="14.20" fill="#000" stroke="#000" stroke-width="0.71" style="">89 Ala</text>
<text transform="translate(434.94,713.40) rotate(90.00) scale(0.8650,1.0000) translate(-0.00,0)" font-size="14.20" fill="#000" stroke="#000" stroke-width="0.71" style="">98 Gly</text>
<path d="M77.40,890.30v-88.54h8.4v88.54zM88.60,890.30v-89.78h8.4v89.78zM99.80,890.30v-72.54h8.4v72.54zM111.00,890.30v-2.48h8.4v2.48zM122.20,890.30v-1.86h8.4v1.86zM133.40,890.30v-0.62h8.4v0.62zM144.60,890.30v-1.86h8.4v1.86zM167.00,890.30v-3.72h8.4v3.72zM178.20,890.30v-4.34h8.4v4.34zM189.40,890.30v-4.34h8.4v4.34zM200.60,890.30v-2.73h8.4v2.73zM211.80,890.30v-0.62h8.4v0.62zM223.00,890.30v-6.20h8.4v6.20zM256.60,890.30v-1.49h8.4v1.49zM301.40,890.30v-1.24h8.4v1.24zM368.60,890.30v-0.37h8.4v0.37zM379.80,890.30v-1.24h8.4v1.24zM391.00,890.30v-0.62h8.4v0.62zM402.20,890.30v-13.14h8.4v13.14zM424.60,890.30v-35.34h8.4v35.34zM435.80,890.30v-121.77h8.4v121.77z" fill="#ffd966"/>
<path d="M75.80,765.30V890.30H445.00" stroke="#000" stroke-width="2.4" fill="none" stroke-linejoin="miter"/>
<path d="M70.80,890.30h5M70.80,865.50h5M70.80,840.70h5M70.80,815.90h5M70.80,791.10h5M70.80,766.30h5" stroke="#000" stroke-width="1.6"/>
<text transform="translate(56.14,894.60) scale(0.9640,1)" font-size="12.00" fill="#000" stroke="#000" stroke-width="0.60" style="" >0</text>
<text transform="translate(48.84,869.80) scale(1.0300,1)" font-size="12.00" fill="#000" stroke="#000" stroke-width="0.60" style="" >20</text>
<text transform="translate(48.84,845.00) scale(1.0300,1)" font-size="12.00" fill="#000" stroke="#000" stroke-width="0.60" style="" >40</text>
<text transform="translate(48.84,820.20) scale(1.0300,1)" font-size="12.00" fill="#000" stroke="#000" stroke-width="0.60" style="" >60</text>
<text transform="translate(48.84,795.40) scale(1.0300,1)" font-size="12.00" fill="#000" stroke="#000" stroke-width="0.60" style="" >80</text>
<text transform="translate(41.54,770.60) scale(1.0489,1)" font-size="12.00" fill="#000" stroke="#000" stroke-width="0.60" style="" >100</text>
<text transform="translate(35.40,879.60) rotate(-90.00) scale(0.8535,1.0000) translate(-0.00,0)" font-size="14.50" fill="#000" stroke="#000" stroke-width="0.73" style="">Relative intensity (%)</text>
<text transform="translate(2.28,777.70) scale(0.8990,1)" font-size="34.00" fill="#000" stroke="#000" stroke-width="1.70" style="" >f</text>
<text transform="translate(76.20,903.30) rotate(90.00) scale(0.8300,1.0000) translate(-0.00,0)" font-size="14.20" fill="#000" stroke="#000" stroke-width="0.71" style="">4 Leu</text>
<text transform="translate(87.40,903.30) rotate(90.00) scale(0.8300,1.0000) translate(-0.00,0)" font-size="14.20" fill="#000" stroke="#000" stroke-width="0.71" style="">5 Glu</text>
<text transform="translate(98.60,903.30) rotate(90.00) scale(0.8300,1.0000) translate(-0.00,0)" font-size="14.20" fill="#000" stroke="#000" stroke-width="0.71" style="">6 Leu</text>
<text transform="translate(109.80,900.70) rotate(90.00) scale(0.8300,1.0000) translate(-0.00,0)" font-size="14.20" fill="#000" stroke="#000" stroke-width="0.71" style="">18 Asp</text>
<text transform="translate(121.00,900.70) rotate(90.00) scale(0.8300,1.0000) translate(-0.00,0)" font-size="14.20" fill="#000" stroke="#000" stroke-width="0.71" style="">20 Ile</text>
<text transform="translate(132.20,900.70) rotate(90.00) scale(0.8300,1.0000) translate(-0.00,0)" font-size="14.20" fill="#000" stroke="#000" stroke-width="0.71" style="">21 Asp</text>
<text transform="translate(143.40,900.70) rotate(90.00) scale(0.8300,1.0000) translate(-0.00,0)" font-size="14.20" fill="#000" stroke="#000" stroke-width="0.71" style="">22 Ile</text>
<text transform="translate(154.60,900.70) rotate(90.00) scale(0.8300,1.0000) translate(-0.00,0)" font-size="14.20" fill="#000" stroke="#000" stroke-width="0.71" style="">23 Leu</text>
<text transform="translate(165.80,900.70) rotate(90.00) scale(0.8300,1.0000) translate(-0.00,0)" font-size="14.20" fill="#000" stroke="#000" stroke-width="0.71" style="">24 Trp</text>
<text transform="translate(177.00,900.70) rotate(90.00) scale(0.8300,1.0000) translate(-0.00,0)" font-size="14.20" fill="#000" stroke="#000" stroke-width="0.71" style="">25 Arg</text>
<text transform="translate(188.20,900.70) rotate(90.00) scale(0.8300,1.0000) translate(-0.00,0)" font-size="14.20" fill="#000" stroke="#000" stroke-width="0.71" style="">28 Ile</text>
<text transform="translate(199.40,900.70) rotate(90.00) scale(0.8300,1.0000) translate(-0.00,0)" font-size="14.20" fill="#000" stroke="#000" stroke-width="0.71" style="">29 Asp</text>
<text transform="translate(210.60,900.70) rotate(90.00) scale(0.8300,1.0000) translate(-0.00,0)" font-size="14.20" fill="#000" stroke="#000" stroke-width="0.71" style="">30 Leu</text>
<text transform="translate(221.80,900.70) rotate(90.00) scale(0.8300,1.0000) translate(-0.00,0)" font-size="14.20" fill="#000" stroke="#000" stroke-width="0.71" style="">32 Val</text>
<text transform="translate(233.00,900.70) rotate(90.00) scale(0.8300,1.0000) translate(-0.00,0)" font-size="14.20" fill="#000" stroke="#000" stroke-width="0.71" style="">54 Leu</text>
<text transform="translate(244.20,900.70) rotate(90.00) scale(0.8300,1.0000) translate(-0.00,0)" font-size="14.20" fill="#000" stroke="#000" stroke-width="0.71" style="">57 Glu</text>
<text transform="translate(255.40,900.70) rotate(90.00) scale(0.8300,1.0000) translate(-0.00,0)" font-size="14.20" fill="#000" stroke="#000" stroke-width="0.71" style="">69 Ala</text>
<text transform="translate(266.60,900.70) rotate(90.00) scale(0.8300,1.0000) translate(-0.00,0)" font-size="14.20" fill="#000" stroke="#000" stroke-width="0.71" style="">70 Phe</text>
<text transform="translate(277.80,900.70) rotate(90.00) scale(0.8300,1.0000) translate(-0.00,0)" font-size="14.20" fill="#000" stroke="#000" stroke-width="0.71" style="">73 Gln</text>
<text transform="translate(289.00,900.70) rotate(90.00) scale(0.8300,1.0000) translate(-0.00,0)" font-size="14.20" fill="#000" stroke="#000" stroke-width="0.71" style="">75 Gln</text>
<text transform="translate(300.20,900.70) rotate(90.00) scale(0.8300,1.0000) translate(-0.00,0)" font-size="14.20" fill="#000" stroke="#000" stroke-width="0.71" style="">76 Leu</text>
<text transform="translate(311.40,900.70) rotate(90.00) scale(0.8300,1.0000) translate(-0.00,0)" font-size="14.20" fill="#000" stroke="#000" stroke-width="0.71" style="">77 Asp</text>
<text transform="translate(322.60,900.70) rotate(90.00) scale(0.8300,1.0000) translate(-0.00,0)" font-size="14.20" fill="#000" stroke="#000" stroke-width="0.71" style="">78 Glu</text>
<text transform="translate(333.80,900.70) rotate(90.00) scale(0.8300,1.0000) translate(-0.00,0)" font-size="14.20" fill="#000" stroke="#000" stroke-width="0.71" style="">79 Glu</text>
<text transform="translate(345.00,900.70) rotate(90.00) scale(0.8300,1.0000) translate(-0.00,0)" font-size="14.20" fill="#000" stroke="#000" stroke-width="0.71" style="">80 Thr</text>
<text transform="translate(356.20,900.70) rotate(90.00) scale(0.8300,1.0000) translate(-0.00,0)" font-size="14.20" fill="#000" stroke="#000" stroke-width="0.71" style="">81 Gly</text>
<text transform="translate(367.40,900.70) rotate(90.00) scale(0.8300,1.0000) translate(-0.00,0)" font-size="14.20" fill="#000" stroke="#000" stroke-width="0.71" style="">82 Glu</text>
<text transform="translate(378.60,900.70) rotate(90.00) scale(0.8300,1.0000) translate(-0.00,0)" font-size="14.20" fill="#000" stroke="#000" stroke-width="0.71" style="">83 Phe</text>
<text transform="translate(389.80,900.70) rotate(90.00) scale(0.8300,1.0000) translate(-0.00,0)" font-size="14.20" fill="#000" stroke="#000" stroke-width="0.71" style="">84 Leu</text>
<text transform="translate(401.00,900.70) rotate(90.00) scale(0.8300,1.0000) translate(-0.00,0)" font-size="14.20" fill="#000" stroke="#000" stroke-width="0.71" style="">86 Ile</text>
<text transform="translate(412.20,900.70) rotate(90.00) scale(0.8300,1.0000) translate(-0.00,0)" font-size="14.20" fill="#000" stroke="#000" stroke-width="0.71" style="">87 Gln</text>
<text transform="translate(423.40,900.70) rotate(90.00) scale(0.8300,1.0000) translate(-0.00,0)" font-size="14.20" fill="#000" stroke="#000" stroke-width="0.71" style="">89 Ala</text>
<text transform="translate(434.60,900.70) rotate(90.00) scale(0.8300,1.0000) translate(-0.00,0)" font-size="14.20" fill="#000" stroke="#000" stroke-width="0.71" style="">98 Gly</text>
<rect x="184.0" y="355.2" width="8.9" height="9.3" fill="#843c0c"/>
<text transform="translate(197.92,365.20) scale(0.9060,1)" font-size="16.00" fill="#000" stroke="#000" stroke-width="0.80" style="" >Neh2:Keap1 = 1:0</text>
<rect x="262.3" y="616.6" width="9.4" height="9.8" fill="#ed7d31"/>
<text transform="translate(276.32,627.50) scale(0.9068,1)" font-size="16.00" fill="#000" stroke="#000" stroke-width="0.80" style="" >Neh2:Keap1 = 1:1</text>
<rect x="219.2" y="843.7" width="8.8" height="9.3" fill="#ffd966"/>
<text transform="translate(233.02,854.20) scale(0.9112,1)" font-size="16.00" fill="#000" stroke="#000" stroke-width="0.80" style="" >Neh2:Keap1 = 1:2</text>
<path d="M126.2,556.8H183.6M189.9,556.8H227.3M112.8,580.9H233.6" stroke="#ff3399" stroke-width="1.7" fill="none"/>
<text transform="translate(134.21,575.30) scale(0.9239,1)" font-size="15.60" fill="#ff3399" stroke="#ff3399" stroke-width="0.78" style="" >Helix-1</text>
<text transform="translate(192.61,575.30) scale(0.9376,1)" font-size="15.60" fill="#ff3399" stroke="#ff3399" stroke-width="0.78" style="" >Helix-2</text>
<text transform="translate(153.61,597.20) scale(0.8463,1)" font-size="15.60" fill="#ff3399" stroke="#ff3399" stroke-width="0.78" style="" >DLGex</text>
<path d="M292.8,553.5H406.8" stroke="#ff0000" stroke-width="1.7" fill="none"/>
<text transform="translate(334.01,575.30) scale(0.8110,1)" font-size="15.60" fill="#ff0000" stroke="#ff0000" stroke-width="0.78" style="" >ETGE</text>
<path d="M122.7,761.2H181.1M186.0,761.2H223.1M109.3,783.9H235.0" stroke="#ff3399" stroke-width="1.7" fill="none"/>
<text transform="translate(130.21,779.20) scale(0.9103,1)" font-size="15.60" fill="#ff3399" stroke="#ff3399" stroke-width="0.78" style="" >Helix-1</text>
<text transform="translate(188.61,779.20) scale(0.9474,1)" font-size="15.60" fill="#ff3399" stroke="#ff3399" stroke-width="0.78" style="" >Helix-2</text>
<text transform="translate(150.51,801.10) scale(0.8383,1)" font-size="15.60" fill="#ff3399" stroke="#ff3399" stroke-width="0.78" style="" >DLGex</text>
<path d="M289.8,757.5H403.1" stroke="#ff0000" stroke-width="1.7" fill="none"/>
<text transform="translate(330.51,779.50) scale(0.7945,1)" font-size="15.60" fill="#ff0000" stroke="#ff0000" stroke-width="0.78" style="" >ETGE</text>
<path d="M119.9,947.6H177.6M183.4,947.6H220.3M106.5,970.7H232.0" stroke="#ff3399" stroke-width="1.7" fill="none"/>
<text transform="translate(127.21,966.00) scale(0.9220,1)" font-size="15.60" fill="#ff3399" stroke="#ff3399" stroke-width="0.78" style="" >Helix-1</text>
<text transform="translate(186.01,966.00) scale(0.9376,1)" font-size="15.60" fill="#ff3399" stroke="#ff3399" stroke-width="0.78" style="" >Helix-2</text>
<text transform="translate(147.71,987.70) scale(0.8324,1)" font-size="15.60" fill="#ff3399" stroke="#ff3399" stroke-width="0.78" style="" >DLGex</text>
<path d="M287.1,944.4H400.3" stroke="#ff0000" stroke-width="1.7" fill="none"/>
<text transform="translate(328.11,965.90) scale(0.7898,1)" font-size="15.60" fill="#ff0000" stroke="#ff0000" stroke-width="0.78" style="" >ETGE</text>
</g>
<defs>
<radialGradient id="ng" cx="50%" cy="50%" r="50%">
<stop offset="0" stop-color="#a2e2a2"/><stop offset="0.45" stop-color="#66c466"/><stop offset="1" stop-color="#1c9c28"/>
</radialGradient></defs>
<path d="M485,518.3L497,510.5Q505.2,505 505.2,496L505.2,486" stroke="#008000" stroke-width="5.2" fill="none" stroke-linecap="butt" stroke-linejoin="round"/>
<path d="M521,470.2Q528,474.8 536,474" stroke="#008000" stroke-width="5.2" fill="none" stroke-linecap="butt" stroke-linejoin="round"/>
<path d="M551.8,461.5C555.2,455 553.8,446 551.8,439" stroke="#008000" stroke-width="5.2" fill="none" stroke-linecap="butt" stroke-linejoin="round"/>
<path d="M557.5,436.5C561.5,443.5 567,449.5 575.3,449.3C584,449 590,441 593.2,428" stroke="#008000" stroke-width="5.2" fill="none" stroke-linecap="butt" stroke-linejoin="round"/>
<g transform="translate(498.1,462.1) scale(0.915) translate(-505.5,-688.8)"><path d="M505.5,702C505.3,696 506.5,692.5 509.9,690.3C512,689 514,688.7 515.8,688.8C519,689 521.5,690 523.4,690.9C526,692.2 530,695.5 533.8,697.9C533,700 531,704 529.2,705.8C527.5,707.8 525,709 522.8,709C521.5,709 520.5,708.6 519.9,708.1C521,710 521.2,712.5 520.3,714.3C519.3,716.3 517,717.5 515,718C513.8,718.4 513.2,719 513.1,720.6L507,721.2C506.5,716 505.7,708 505.5,702Z" fill="#ff74e0"/><g fill="none" stroke="#ffeafa" stroke-linecap="round"><path d="M512.8,697.4Q516.4,694.9 520,697.4L519.5,699.4" stroke-width="2.4"/><path d="M511.2,703.7L514.4,703.2" stroke-width="1.25"/><path d="M525,700.7L523.5,703.9" stroke-width="1.35"/><path d="M517.6,706.7L518.9,707.7" stroke-width="1"/><path d="M513.2,712.7L515.5,712.1" stroke-width="1.5"/></g></g>
<path transform="translate(554.1,438.1) rotate(-23)" d="M-9.1,0.3C-10.19,-7.22 -5.64,-11.65 0,-11.65C5.64,-11.65 10.19,-7.22 9.1,0.3Z" fill="#ff0000"/>
<path d="M554.5,438.3L578.5,457.2" stroke="#ff0000" stroke-width="1.1"/>
<path d="M511.1,486.6L517.1,505.1" stroke="#ff3399" stroke-width="1.1"/>
<g transform="translate(544.7,469.0) rotate(-33)"><rect x="-9.7" y="-5.8" width="19.4" height="11.6" fill="#fff" stroke="#1f8f1f" stroke-width="0.9"/><text transform="scale(0.9615,1) translate(-4.68,4.65)" font-size="13.0" style="font-family:'Liberation Sans',sans-serif;font-weight:bold" fill="#000" stroke="#000" stroke-width="0.9">K</text></g>
<g transform="translate(606.1,413.3) rotate(-51.8)"><ellipse rx="20.8" ry="14.0" fill="url(#ng)" stroke="#14951f" stroke-width="1.5"/><text transform="scale(1.0161,1) translate(-15.50,5.55)" font-size="15.5" style="font-family:'Liberation Sans',sans-serif;font-weight:bold" fill="#000" stroke="#000" stroke-width="0.6">Nrf2</text></g>
<g style="font-family:'Liberation Sans',sans-serif;font-weight:bold">
<text transform="translate(585.80,470.90) rotate(-33.00) scale(0.8731,1.0000) translate(-0.00,0)" font-size="14.50" fill="#ff0000" stroke="#ff0000" stroke-width="0.73" style="">ETGE</text>
<text transform="translate(517.80,522.90) rotate(-30.80) scale(0.9388,1.0000) translate(-0.00,0)" font-size="14.50" fill="#ff3399" stroke="#ff3399" stroke-width="0.73" style="">DLGex</text>
</g>
<circle cx="526.9" cy="600.4" r="12.6" fill="#8faadc"/>
<path d="M523,610.5Q514,612.5 506,622" stroke="#8faadc" stroke-width="9" fill="none" stroke-linecap="round"/><circle cx="511.0" cy="616.3" r="5.4" fill="#8faadc"/>
<path d="M498.5,620.9C488,621.5 480,628 478.6,640C477.5,652 484,667 490.5,676.3L505.1,652.6L525,667.7C529,660 529.5,650 527,641C524,631 517,622.5 509.9,621.5Z" fill="#8faadc"/>
<circle cx="547.7" cy="600.4" r="14.1" fill="#0000ff"/>
<path d="M553,610Q562,613.5 574,624" stroke="#0000ff" stroke-width="9" fill="none" stroke-linecap="round"/><circle cx="568" cy="616.8" r="5.4" fill="#0000ff"/>
<path d="M579,620.5C568,621 555,632 550.5,645C548.5,652 549.5,660 552,667.7L570,652L588,674C595,665 598.5,652 596.5,641C594,629 587,621 579,620.5Z" fill="#0000ff"/>
<path d="M484.2,750.2L502.3,740.7Q510,736 510.2,728L510.2,718" stroke="#008000" stroke-width="5.2" fill="none" stroke-linecap="butt" stroke-linejoin="round"/>
<path d="M531.5,700Q538,705.3 546.5,704" stroke="#008000" stroke-width="5.2" fill="none" stroke-linecap="butt" stroke-linejoin="round"/>
<path d="M565,692.5C571,686 569.3,676 567.5,668" stroke="#008000" stroke-width="5.2" fill="none" stroke-linecap="butt" stroke-linejoin="round"/>
<path d="M576,666C580,676 588,681.5 598.8,682C609,682 615,672 618.2,658" stroke="#008000" stroke-width="5.2" fill="none" stroke-linecap="butt" stroke-linejoin="round"/>
<g transform="translate(505.5,688.8) scale(1.0) translate(-505.5,-688.8)"><path d="M505.5,702C505.3,696 506.5,692.5 509.9,690.3C512,689 514,688.7 515.8,688.8C519,689 521.5,690 523.4,690.9C526,692.2 530,695.5 533.8,697.9C533,700 531,704 529.2,705.8C527.5,707.8 525,709 522.8,709C521.5,709 520.5,708.6 519.9,708.1C521,710 521.2,712.5 520.3,714.3C519.3,716.3 517,717.5 515,718C513.8,718.4 513.2,719 513.1,720.6L507,721.2C506.5,716 505.7,708 505.5,702Z" fill="#ff74e0"/><g fill="none" stroke="#ffeafa" stroke-linecap="round"><path d="M512.8,697.4Q516.4,694.9 520,697.4L519.5,699.4" stroke-width="2.4"/><path d="M511.2,703.7L514.4,703.2" stroke-width="1.25"/><path d="M525,700.7L523.5,703.9" stroke-width="1.35"/><path d="M517.6,706.7L518.9,707.7" stroke-width="1"/><path d="M513.2,712.7L515.5,712.1" stroke-width="1.5"/></g></g>
<path transform="translate(571.3,666.5) rotate(-18)" d="M-10.0,0.3C-11.20,-7.94 -6.20,-12.80 0,-12.80C6.20,-12.80 11.20,-7.94 10.0,0.3Z" fill="#ff0000"/>
<g transform="translate(556.5,700.3) rotate(-29.7)"><rect x="-11.5" y="-6.5" width="23.0" height="13.0" fill="#fff" stroke="#1f8f1f" stroke-width="0.9"/><text transform="scale(0.9524,1) translate(-5.04,5.01)" font-size="14.0" style="font-family:'Liberation Sans',sans-serif;font-weight:bold" fill="#000" stroke="#000" stroke-width="0.9">K</text></g>
<g transform="translate(632.4,643.1) rotate(-50.8)"><ellipse rx="23.3" ry="16.5" fill="url(#ng)" stroke="#14951f" stroke-width="1.5"/><text transform="scale(1.0152,1) translate(-16.50,5.91)" font-size="16.5" style="font-family:'Liberation Sans',sans-serif;font-weight:bold" fill="#000" stroke="#000" stroke-width="0.6">Nrf2</text></g>
<g style="font-family:'Liberation Sans',sans-serif;font-weight:bold">
<text transform="translate(482.10,619.70) rotate(-53.10) scale(0.8208,1.0000) translate(-0.00,0)" font-size="16.00" fill="#b4c7e7" stroke="#b4c7e7" stroke-width="0.80" style="">Keap1</text>
<text transform="translate(565.90,593.00) rotate(41.80) scale(0.8208,1.0000) translate(-0.00,0)" font-size="16.00" fill="#0433ff" stroke="#0433ff" stroke-width="0.80" style="font-style:italic;">Keap1</text>
</g>
<circle cx="533.8" cy="813" r="13.9" fill="#0000ff"/>
<circle cx="551.9" cy="804.4" r="14.6" fill="#0000ff"/>
<path d="M532.5,825L527,843" stroke="#0000ff" stroke-width="10" fill="none" stroke-linecap="round"/><circle cx="527.4" cy="838.0" r="6.4" fill="#0000ff"/>
<path d="M562,810.5L582,812.5" stroke="#0000ff" stroke-width="8.5" fill="none" stroke-linecap="round"/><circle cx="576.5" cy="811.9" r="5" fill="#0000ff"/>
<path d="M531.9,842.9C542,843 556,852 563.8,875.6L545,880L536.1,899.5C525,897 514,886 511.5,871C509.5,858 515,845 531.9,842.9Z" fill="#0000ff"/>
<path d="M594.9,807.6C606,808 619,822 622.5,838C623.5,843 623,848 621.8,851.9L601.5,840L588.2,862.3C580,853 574,840 575,830C576.5,817 585,808 594.9,807.6Z" fill="#0000ff"/>
<path d="M512.5,929.5L531,920.7Q538.8,917 539,908L539,898" stroke="#008000" stroke-width="5.2" fill="none" stroke-linecap="butt" stroke-linejoin="round"/>
<path d="M561,879.5Q567,885.8 575.8,886" stroke="#008000" stroke-width="5.2" fill="none" stroke-linecap="butt" stroke-linejoin="round"/>
<path d="M595,873C601,866 599.6,857 597.7,849" stroke="#008000" stroke-width="5.2" fill="none" stroke-linecap="butt" stroke-linejoin="round"/>
<path d="M606,846C609,856 618,863 629,863.3C640,863 645,852 649,840" stroke="#008000" stroke-width="5.2" fill="none" stroke-linecap="butt" stroke-linejoin="round"/>
<g transform="translate(534.7,868.8) scale(0.985) translate(-505.5,-688.8)"><path d="M505.5,702C505.3,696 506.5,692.5 509.9,690.3C512,689 514,688.7 515.8,688.8C519,689 521.5,690 523.4,690.9C526,692.2 530,695.5 533.8,697.9C533,700 531,704 529.2,705.8C527.5,707.8 525,709 522.8,709C521.5,709 520.5,708.6 519.9,708.1C521,710 521.2,712.5 520.3,714.3C519.3,716.3 517,717.5 515,718C513.8,718.4 513.2,719 513.1,720.6L507,721.2C506.5,716 505.7,708 505.5,702Z" fill="#ff74e0"/><g fill="none" stroke="#ffeafa" stroke-linecap="round"><path d="M512.8,697.4Q516.4,694.9 520,697.4L519.5,699.4" stroke-width="2.4"/><path d="M511.2,703.7L514.4,703.2" stroke-width="1.25"/><path d="M525,700.7L523.5,703.9" stroke-width="1.35"/><path d="M517.6,706.7L518.9,707.7" stroke-width="1"/><path d="M513.2,712.7L515.5,712.1" stroke-width="1.5"/></g></g>
<path transform="translate(601.9,846.7) rotate(-19)" d="M-9.5,0.3C-10.64,-7.54 -5.89,-12.16 0,-12.16C5.89,-12.16 10.64,-7.54 9.5,0.3Z" fill="#ff0000"/>
<g transform="translate(586.4,881.3) rotate(-28.6)"><rect x="-11.85" y="-6.45" width="23.7" height="12.9" fill="#fff" stroke="#1f8f1f" stroke-width="0.9"/><text transform="scale(0.9524,1) translate(-5.04,5.01)" font-size="14.0" style="font-family:'Liberation Sans',sans-serif;font-weight:bold" fill="#000" stroke="#000" stroke-width="0.9">K</text></g>
<g transform="translate(664.1,826.2) rotate(-50)"><ellipse rx="23.4" ry="16.5" fill="url(#ng)" stroke="#14951f" stroke-width="1.5"/><text transform="scale(1.0152,1) translate(-16.50,5.91)" font-size="16.5" style="font-family:'Liberation Sans',sans-serif;font-weight:bold" fill="#000" stroke="#000" stroke-width="0.6">Nrf2</text></g>
<g style="font-family:'Liberation Sans',sans-serif;font-weight:bold">
<text transform="translate(496.50,867.50) rotate(-80.50) scale(0.8180,1.0000) translate(-0.00,0)" font-size="16.30" fill="#0433ff" stroke="#0433ff" stroke-width="0.82" style="font-style:italic;">Keap1</text>
<text transform="translate(587.30,800.60) rotate(14.00) scale(0.8500,1.0000) translate(-0.00,0)" font-size="16.00" fill="#0433ff" stroke="#0433ff" stroke-width="0.80" style="font-style:italic;">Keap1</text>
</g>
</svg>
</body></html>
